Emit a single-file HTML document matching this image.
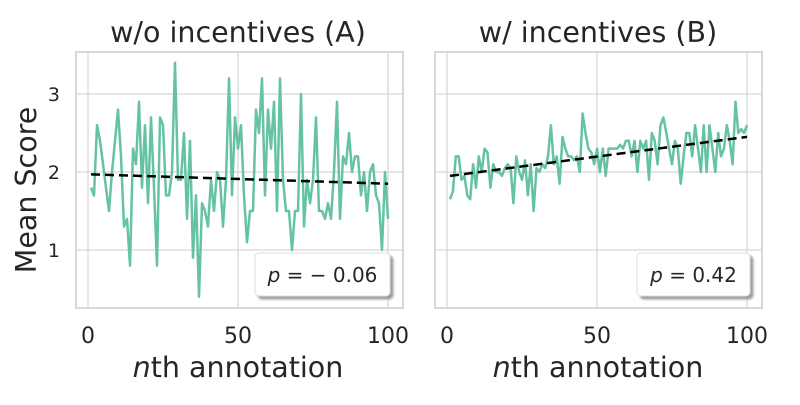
<!DOCTYPE html>
<html><head><style>
body{margin:0;background:#fff;}
svg text{font-family:"DejaVu Sans","Liberation Sans",sans-serif;fill:#262626;}
</style></head><body>
<svg id="s" width="800" height="400" xmlns="http://www.w3.org/2000/svg">
<defs><filter id="sh" x="-20%" y="-20%" width="150%" height="150%"><feDropShadow dx="3" dy="3" stdDeviation="1" flood-color="#888" flood-opacity="0.8"/></filter></defs>
<g id="g"></g>
<text x="238" y="42" font-size="28.5" text-anchor="middle">w/o incentives (A)</text>
<text x="598" y="42" font-size="28.5" text-anchor="middle">w/ incentives (B)</text>
<text transform="translate(36,190) rotate(-90)" font-size="28.5" text-anchor="middle">Mean Score</text>
<text x="238" y="377" font-size="28.5" text-anchor="middle"><tspan font-style="italic">n</tspan>th annotation</text>
<text x="598" y="377" font-size="28.5" text-anchor="middle"><tspan font-style="italic">n</tspan>th annotation</text>
</svg>
<script>
var g=document.getElementById('g');
var A=[1.8,1.7,2.6,2.4,2.1,1.8,1.5,2.0,2.4,2.8,2.2,1.3,1.4,0.8,2.3,2.1,2.9,1.8,2.6,1.6,2.7,1.8,0.8,2.7,2.6,1.7,1.7,2.0,3.4,1.9,1.9,2.5,1.4,2.4,0.9,1.7,0.4,1.6,1.5,1.3,1.9,1.5,2.0,1.9,1.3,1.9,3.2,1.7,2.7,2.3,2.6,1.7,1.1,1.5,1.5,2.8,2.5,3.2,1.7,2.8,2.3,2.9,1.5,3.2,1.9,1.5,1.5,1.0,1.5,1.5,3.0,1.3,1.9,1.6,1.9,2.7,1.5,1.5,1.4,1.6,1.4,2.0,2.9,1.4,2.2,2.1,2.5,2.0,2.2,2.2,1.7,2.0,1.5,2.0,2.1,1.7,1.6,1.0,2.0,1.4];
var B=[1.65,1.75,2.2,2.2,1.9,1.95,1.7,1.65,2.1,1.8,2.2,2.0,2.3,2.25,1.8,2.1,2.0,2.0,1.95,2.05,2.1,2.05,1.6,2.2,2.0,1.9,2.15,1.7,2.1,1.5,2.05,2.0,2.1,2.05,2.2,2.6,2.1,2.2,1.85,2.45,2.3,2.2,2.2,2.15,2.2,2.0,2.75,2.5,2.3,2.25,2.1,2.3,2.0,2.3,1.95,2.3,2.3,2.3,2.3,2.35,2.3,2.4,2.4,2.2,2.4,2.0,2.4,2.3,2.4,1.9,2.5,2.4,2.1,2.6,2.7,2.5,2.3,2.1,2.4,2.3,1.85,2.2,2.5,2.5,2.2,2.6,2.3,2.0,2.6,2.0,2.6,2.3,2.0,2.5,2.2,2.3,2.6,2.4,2.1,2.9,2.5,2.55,2.5,2.6];
function Y(v){return 328-78*v;}
function panel(fx,x0,data,t0,t1,lx,lw,lab){
 var h='';
 h+='<rect x="'+fx+'" y="52" width="327" height="256" fill="#fff" stroke="#ccc" stroke-width="1.5"/>';
 [0,50,100].forEach(function(t){var x=x0+3*t;h+='<line x1="'+x+'" y1="52" x2="'+x+'" y2="308" stroke="#d6d6d6" stroke-width="1.2"/>';
  h+='<text x="'+x+'" y="343" font-size="22" text-anchor="middle">'+t+'</text>';});
 [1,2,3].forEach(function(t){var y=Y(t);h+='<line x1="'+fx+'" y1="'+y+'" x2="'+(fx+327)+'" y2="'+y+'" stroke="#d6d6d6" stroke-width="1.2"/>';
  if(fx<100)h+='<text x="60" y="'+(y+7)+'" font-size="19" text-anchor="end">'+t+'</text>';});
 var n=data.length,p=[];
 for(var i=0;i<n;i++){p.push((x0+3*(1+i*99/(n-1))).toFixed(1)+','+Y(data[i]).toFixed(1));}
 h+='<polyline points="'+p.join(' ')+'" fill="none" stroke="#66c2a5" stroke-width="2.5" stroke-linejoin="round"/>';
 h+='<line x1="'+(x0+3)+'" y1="'+Y(t0)+'" x2="'+(x0+300)+'" y2="'+Y(t1)+'" stroke="#000" stroke-width="2.5" stroke-dasharray="9,5"/>';
 h+='<rect x="'+lx+'" y="253" width="'+lw+'" height="43" rx="4" fill="#fff" stroke="#ddd" filter="url(#sh)"/>';
 h+='<text x="'+(lx+lw/2)+'" y="282" font-size="20" text-anchor="middle">'+lab+'</text>';
 g.innerHTML+=h;
}
panel(76,88,A,1.97,1.85,255,135,'<tspan font-style="italic">p</tspan> = − 0.06');
panel(435,447,B,1.95,2.45,637,113,'<tspan font-style="italic">p</tspan> = 0.42');
</script>
</body></html>
